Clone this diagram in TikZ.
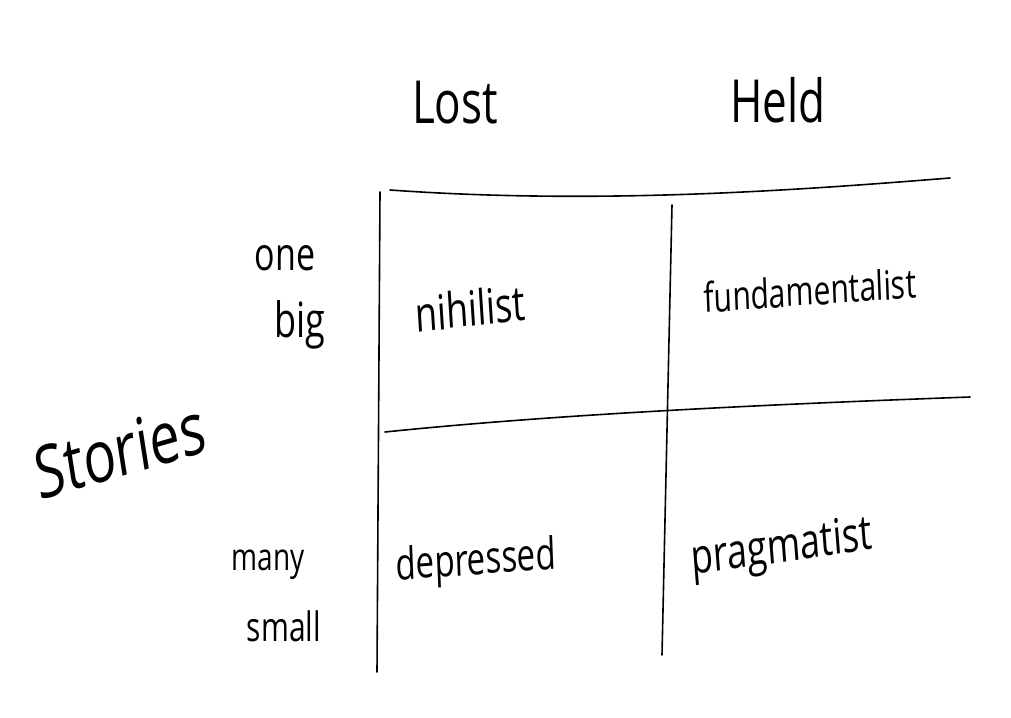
\documentclass[tikz,border=0pt]{standalone}
\usepackage{fontspec}
\setmainfont{Open Sans}
\tikzset{
  stroke/.style={line width=1.6pt, black, line cap=round},
  hand/.style={inner sep=0pt, yscale=1.35, font=\fontsize{#1}{#1}\selectfont},
}
\begin{document}
\begin{tikzpicture}[x=1pt,y=-1pt]
\fill[white] (0,0) rectangle (1011,717);
\useasboundingbox (0,0) rectangle (1011,717);
% grid lines
\coordinate (tl) at (390,190);
\coordinate (tr) at (950,178);
\coordinate (lt) at (380,192);
\coordinate (lb) at (377,672);
\coordinate (mt) at (672,205);
\coordinate (mb) at (662,655);
\coordinate (hl) at (385,432);
\coordinate (hr) at (970,397);
\draw[stroke] (tl) .. controls (600,205) and (800,190) .. (tr);
\draw[stroke] (lt) -- (lb);
\draw[stroke] (mt) -- (mb);
\draw[stroke] (hl) .. controls (550,415) and (750,405) .. (hr);
% column headers
\node[hand=44] (lost) at (455,103) {Lost};
\node[hand=44] (held) at (778,100) {Held};
% row labels
\node[hand=34] (one) at (285,258) {one};
\node[hand=36] (big) at (300,325) {big};
\node[hand=28] (many) at (268,565) {many};
\node[hand=30] (small) at (284,626) {small};
\node[hand=54, rotate=12] (stories) at (120,450) {Stories};
% cells
\node[hand=36, rotate=5] (nihilist) at (470,308) {nihilist};
\node[hand=30, rotate=3] (fund) at (810,290) {fundamentalist};
\node[hand=33, rotate=3] (dep) at (476,563) {depressed};
\node[hand=36, rotate=6] (prag) at (782,550) {pragmatist};
\end{tikzpicture}
\end{document}
